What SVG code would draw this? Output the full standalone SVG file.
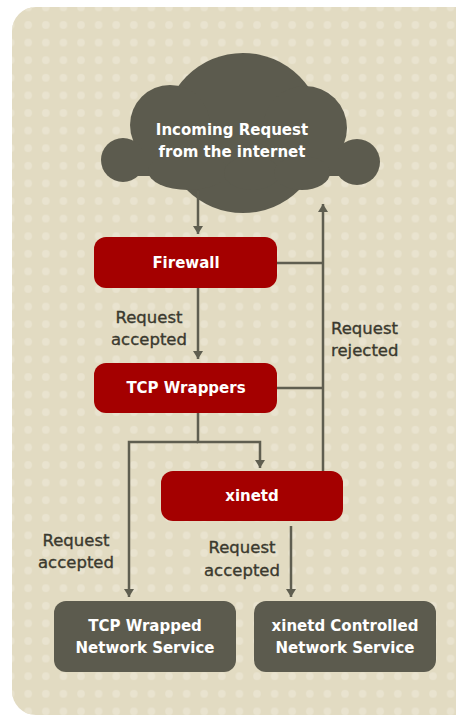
<svg xmlns="http://www.w3.org/2000/svg" width="456" height="715" viewBox="0 0 456 715">
<defs>
<pattern id="dots" x="19.4" y="16.2" width="17.6" height="17.6" patternUnits="userSpaceOnUse">
<circle cx="8.8" cy="8.8" r="3.8" fill="#e9e3cf"/>
</pattern>
<marker id="ah" markerUnits="userSpaceOnUse" markerWidth="10" markerHeight="10" refX="8" refY="5" orient="auto">
<path d="M0,0 L8,5 L0,10 z" fill="#5f5e50"/>
</marker>
<style>
.red{fill:#a40000}
.gray{fill:#5c5b4e}
.bt{font-family:"DejaVu Sans",sans-serif;font-weight:bold;font-size:15px;fill:#ffffff;text-anchor:middle}
.lb{font-family:"DejaVu Sans",sans-serif;font-size:16.5px;fill:#3a392e;stroke:#3a392e;stroke-width:0.35}
.ln{fill:none;stroke:#5f5e50;stroke-width:2.5}
</style>
</defs>
<rect x="12" y="7" width="470" height="708" rx="24" fill="#e2dbc2"/>
<rect x="12" y="7" width="470" height="708" rx="24" fill="url(#dots)"/>
<g id="cloud">
<g class="gray">
<circle cx="243" cy="133" r="80"/>
<circle cx="170" cy="125" r="40"/>
<circle cx="305" cy="128" r="42"/>
<circle cx="123" cy="160" r="22"/>
<circle cx="357" cy="162" r="23"/>
<rect x="123" y="150" width="234" height="26"/>
<ellipse cx="188" cy="171" rx="40" ry="19"/>
<ellipse cx="252" cy="173" rx="28" ry="17"/>
<ellipse cx="302" cy="173" rx="28" ry="17"/>
</g>
<text class="bt" x="232" y="135">Incoming Request</text>
<text class="bt" x="232" y="157">from the internet</text>
</g>
<g id="firewall">
<rect class="red" x="94" y="237" width="183" height="51" rx="12"/>
<text class="bt" x="186" y="268">Firewall</text>
</g>
<g id="tcpwrappers">
<rect class="red" x="94" y="363" width="183" height="50" rx="12"/>
<text class="bt" x="186" y="393">TCP Wrappers</text>
</g>
<g id="xinetd">
<rect class="red" x="161" y="471" width="182" height="50" rx="12"/>
<text class="bt" x="252" y="501">xinetd</text>
</g>
<g id="tcpwrapped">
<rect class="gray" x="54" y="601" width="182" height="71" rx="12"/>
<text class="bt" x="145" y="631">TCP Wrapped</text>
<text class="bt" x="145" y="653">Network Service</text>
</g>
<g id="xinetdcontrolled">
<rect class="gray" x="254" y="601" width="182" height="71" rx="12"/>
<text class="bt" x="345" y="631">xinetd Controlled</text>
<text class="bt" x="345" y="653">Network Service</text>
</g>
<g id="connectors">
<path class="ln" d="M198,191 V234" marker-end="url(#ah)"/>
<path class="ln" d="M198,288 V359" marker-end="url(#ah)"/>
<path class="ln" d="M277,263 H323"/>
<path class="ln" d="M277,388 H323"/>
<path class="ln" d="M323,471 V204" marker-end="url(#ah)"/>
<path class="ln" d="M198,413 V442 H260 V468" marker-end="url(#ah)"/>
<path class="ln" d="M198,442 H129 V597" marker-end="url(#ah)"/>
<path class="ln" d="M291,526 V597" marker-end="url(#ah)"/>
</g>
<g id="labels">
<text class="lb" x="149" y="323" text-anchor="middle">Request</text>
<text class="lb" x="149" y="345" text-anchor="middle">accepted</text>
<text class="lb" x="331" y="334">Request</text>
<text class="lb" x="331" y="356">rejected</text>
<text class="lb" x="76" y="546" text-anchor="middle">Request</text>
<text class="lb" x="76" y="568" text-anchor="middle">accepted</text>
<text class="lb" x="242" y="553" text-anchor="middle">Request</text>
<text class="lb" x="242" y="576" text-anchor="middle">accepted</text>
</g>
</svg>
